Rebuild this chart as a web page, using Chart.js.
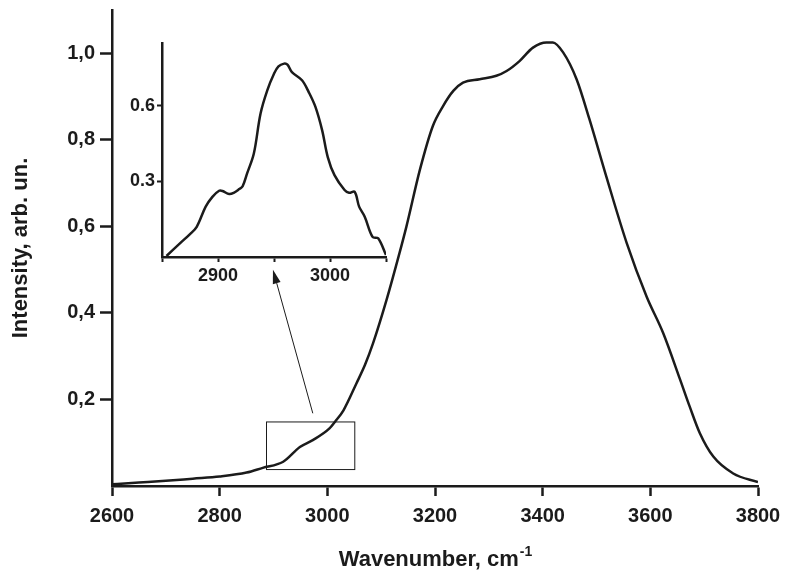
<!DOCTYPE html>
<html>
<head>
<meta charset="utf-8">
<script src="https://cdn.jsdelivr.net/npm/chart.js@4.4.1/dist/chart.umd.min.js"></script>
<style>
  html, body { margin: 0; padding: 0; background: #fff; }
  #wrap { position: relative; width: 785px; height: 573px; }
  #main { position: absolute; left: 0; top: 0; }
  #inset { position: absolute; left: 110px; top: 30px; }
</style>
</head>
<body>
<div id="wrap">
  <canvas id="main" width="785" height="573" style="width:785px;height:573px"></canvas>
  <canvas id="inset" width="290" height="260" style="width:290px;height:260px"></canvas>
</div>
<script>
// main spectrum
const wavenumber = [2600, 2650, 2700, 2750, 2800, 2850, 2880, 2918, 2949, 2973, 3004, 3014, 3030, 3054, 3070, 3085, 3110, 3134, 3147, 3172, 3196, 3215, 3234, 3252, 3283, 3314, 3333, 3357, 3382, 3407, 3419, 3438, 3463, 3487, 3518, 3556, 3593, 3624, 3655, 3673, 3692, 3717, 3754, 3800];
const intensity = [0.004, 0.008, 0.012, 0.017, 0.022, 0.031, 0.042, 0.056, 0.090, 0.106, 0.133, 0.148, 0.175, 0.237, 0.280, 0.330, 0.430, 0.538, 0.600, 0.731, 0.832, 0.878, 0.913, 0.932, 0.940, 0.948, 0.959, 0.982, 1.013, 1.025, 1.025, 1.002, 0.940, 0.847, 0.716, 0.562, 0.438, 0.353, 0.247, 0.184, 0.122, 0.068, 0.029, 0.009];

const xTicks = [2600, 2800, 3000, 3200, 3400, 3600, 3800];
const yTicks = [0.2, 0.4, 0.6, 0.8, 1.0];

// inset: C-H region
const insetWavenumber = [2854, 2866, 2875, 2881, 2889, 2895, 2901, 2904, 2910, 2914, 2919, 2922, 2926, 2932, 2938, 2944, 2950, 2954, 2959, 2962, 2966, 2975, 2981, 2987, 2993, 2998, 3004, 3013, 3017, 3022, 3026, 3031, 3038, 3043, 3050];
const insetIntensity = [0.004, 0.054, 0.091, 0.12, 0.20, 0.239, 0.263, 0.262, 0.25, 0.255, 0.27, 0.281, 0.332, 0.411, 0.57, 0.662, 0.728, 0.757, 0.768, 0.764, 0.734, 0.702, 0.655, 0.596, 0.503, 0.397, 0.325, 0.266, 0.255, 0.259, 0.20, 0.16, 0.08, 0.074, 0.008];

const insetXTicks = [2850, 2900, 2950, 3000, 3050];
const insetXLabels = [2900, 3000];
const insetYTicks = [0.3, 0.6];

// marked region and arrow to the inset (data units of the main plot)
const zoomBox = { x0: 2887, x1: 3051, y0: 0.038, y1: 0.148 };
const arrow = { fromX: 2973, fromY: 0.168, toX: 2899, toY: 0.50 };

const FONT = "'Liberation Sans', Arial, Helvetica, sans-serif";
const INK = "#1b1b1b";

const overlay = {
    id: "overlay",
    afterDatasetsDraw(chart) {
        const { ctx, chartArea } = chart;
        const x = chart.scales.x;
        const y = chart.scales.y;
        ctx.save();

        ctx.strokeStyle = INK;
        ctx.lineWidth = 1;
        const bx0 = x.getPixelForValue(zoomBox.x0);
        const bx1 = x.getPixelForValue(zoomBox.x1);
        const by0 = y.getPixelForValue(zoomBox.y0);
        const by1 = y.getPixelForValue(zoomBox.y1);
        ctx.strokeRect(bx0, by1, bx1 - bx0, by0 - by1);

        const ax0 = x.getPixelForValue(arrow.fromX);
        const ay0 = y.getPixelForValue(arrow.fromY);
        const ax1 = x.getPixelForValue(arrow.toX);
        const ay1 = y.getPixelForValue(arrow.toY);
        const ang = Math.atan2(ay1 - ay0, ax1 - ax0);
        const headLen = 14, headW = 4;
        ctx.beginPath();
        ctx.moveTo(ax0, ay0);
        ctx.lineTo(ax1 - Math.cos(ang) * headLen, ay1 - Math.sin(ang) * headLen);
        ctx.stroke();
        ctx.fillStyle = INK;
        ctx.beginPath();
        ctx.moveTo(ax1, ay1);
        ctx.lineTo(ax1 - Math.cos(ang) * headLen - Math.sin(ang) * headW, ay1 - Math.sin(ang) * headLen + Math.cos(ang) * headW);
        ctx.lineTo(ax1 - Math.cos(ang) * headLen + Math.sin(ang) * headW, ay1 - Math.sin(ang) * headLen - Math.cos(ang) * headW);
        ctx.closePath();
        ctx.fill();

        // x axis title with superscript
        const title = "Wavenumber, cm";
        const sup = "-1";
        ctx.textAlign = "left";
        ctx.textBaseline = "alphabetic";
        ctx.font = "bold 22px " + FONT;
        const w1 = ctx.measureText(title).width;
        ctx.font = "bold 14px " + FONT;
        const w2 = ctx.measureText(sup).width;
        const sx = (chartArea.left + chartArea.right) / 2 - (w1 + w2) / 2;
        const base = chart.height - 7;
        ctx.font = "bold 22px " + FONT;
        ctx.fillText(title, sx, base);
        ctx.font = "bold 14px " + FONT;
        ctx.fillText(sup, sx + w1 + 1, base - 10);

        ctx.restore();
    },
};

new Chart(document.getElementById("main"), {
    type: "line",
    data: {
        datasets: [
            {
                data: wavenumber.map((v, i) => ({ x: v, y: intensity[i] })),
                borderColor: INK,
                borderWidth: 2.5,
                pointRadius: 0,
                tension: 0.4,
                cubicInterpolationMode: "monotone",
                fill: false,
            },
        ],
    },
    options: {
        responsive: false,
        animation: false,
        layout: { padding: { top: 10, right: 27, left: 0, bottom: 0 } },
        plugins: { legend: { display: false }, tooltip: { enabled: false } },
        scales: {
            x: {
                type: "linear",
                min: 2600,
                max: 3800,
                afterBuildTicks: (s) => { s.ticks = xTicks.map((v) => ({ value: v })); },
                afterFit: (s) => {
                    s.height = 87;
                    s.paddingLeft = 0;
                    s.paddingRight = 0;
                },
                grid: { drawOnChartArea: false, tickLength: 10, tickWidth: 2.5, tickColor: INK },
                border: { color: INK, width: 2.5 },
                ticks: {
                    color: INK,
                    font: { family: FONT, size: 20, weight: "bold" },
                    padding: 8,
                    maxRotation: 0,
                    autoSkip: false,
                    callback: (v) => String(v),
                },
            },
            y: {
                min: 0,
                max: 1.1,
                afterBuildTicks: (s) => { s.ticks = yTicks.map((v) => ({ value: v })); },
                afterFit: (s) => {
                    s.width = 112;
                    s.paddingTop = 0;
                    s.paddingBottom = 0;
                },
                grid: { drawOnChartArea: false, tickLength: 12, tickWidth: 2.5, tickColor: INK },
                border: { color: INK, width: 2.5 },
                ticks: {
                    color: INK,
                    font: { family: FONT, size: 20, weight: "bold" },
                    padding: 5,
                    callback: (v) => v.toFixed(1).replace(".", ","),
                },
                title: {
                    display: true,
                    text: "Intensity, arb. un.",
                    color: INK,
                    font: { family: FONT, size: 22, weight: "bold" },
                    padding: { top: 8, bottom: 0 },
                },
            },
        },
    },
    plugins: [overlay],
});

new Chart(document.getElementById("inset"), {
    type: "line",
    data: {
        datasets: [
            {
                data: insetWavenumber.map((v, i) => ({ x: v, y: insetIntensity[i] })),
                borderColor: INK,
                borderWidth: 2.5,
                pointRadius: 0,
                tension: 0.35,
                fill: false,
            },
        ],
    },
    options: {
        responsive: false,
        animation: false,
        layout: { padding: { top: 13, right: 14, left: 0, bottom: 0 } },
        plugins: { legend: { display: false }, tooltip: { enabled: false } },
        scales: {
            x: {
                type: "linear",
                min: 2850,
                max: 3050,
                afterBuildTicks: (s) => { s.ticks = insetXTicks.map((v) => ({ value: v })); },
                afterFit: (s) => {
                    s.height = 33;
                    s.paddingLeft = 0;
                    s.paddingRight = 0;
                },
                grid: { drawOnChartArea: false, tickLength: 5, tickWidth: 2, tickColor: INK },
                border: { color: INK, width: 2.5 },
                ticks: {
                    color: INK,
                    font: { family: FONT, size: 18, weight: "bold" },
                    padding: 3,
                    maxRotation: 0,
                    autoSkip: false,
                    callback: (v) => (insetXLabels.includes(v) ? String(v) : ""),
                },
            },
            y: {
                min: 0,
                max: 0.85,
                afterBuildTicks: (s) => { s.ticks = insetYTicks.map((v) => ({ value: v })); },
                afterFit: (s) => {
                    s.width = 52;
                    s.paddingTop = 0;
                    s.paddingBottom = 0;
                },
                grid: { drawOnChartArea: false, tickLength: 5, tickWidth: 2, tickColor: INK },
                border: { color: INK, width: 2.5 },
                ticks: {
                    color: INK,
                    font: { family: FONT, size: 18, weight: "bold" },
                    padding: 2,
                    callback: (v) => v.toFixed(1),
                },
            },
        },
    },
});
</script>
</body>
</html>
